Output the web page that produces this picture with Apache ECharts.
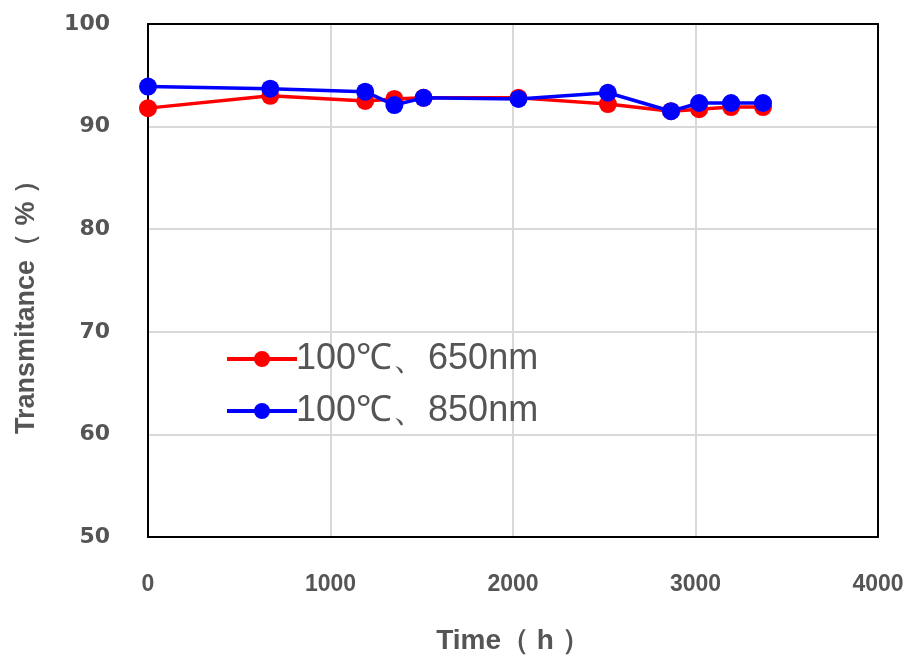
<!DOCTYPE html>
<html><head><meta charset="utf-8">
<script src="https://cdn.jsdelivr.net/npm/echarts@6/dist/echarts.min.js"></script>
<style>html,body{margin:0;padding:0;background:#fff}#c{width:919px;height:659px}</style>
</head><body><div id="c"></div>
<script>
const time650 = [0, 670, 1190, 1350, 1510, 2030, 2520, 2866, 3020, 3195, 3370];
const trans650 = [91.8, 93.0, 92.5, 92.7, 92.8, 92.8, 92.2, 91.5, 91.7, 91.9, 91.9];
const time850 = [0, 670, 1190, 1350, 1510, 2030, 2520, 2866, 3020, 3195, 3370];
const trans850 = [93.9, 93.7, 93.4, 92.1, 92.8, 92.7, 93.3, 91.5, 92.3, 92.3, 92.3];
const seriesNames = ['100℃、650nm', '100℃、850nm'];
const xTicks = [0, 1000, 2000, 3000, 4000];
const yTicks = [50, 60, 70, 80, 90, 100];

const chart = echarts.init(document.getElementById('c'));
const pair = (xs, ys) => xs.map((x, i) => [x, ys[i]]);
const frameAxis = {show: true, axisLine: {show: true, onZero: false, lineStyle: {color: '#000', width: 2}},
  axisTick: {show: false}, axisLabel: {show: false}, splitLine: {show: false}};
chart.setOption({
  animation: false,
  grid: {left: 148, right: 41, top: 24, bottom: 122, containLabel: false, outerBoundsMode: 'none'},
  legend: {
    orient: 'vertical', left: 220, top: 336, itemGap: 16, itemWidth: 70, itemHeight: 20,
    lineStyle: {width: 4},
    textStyle: {fontSize: 36, color: '#555', fontFamily: 'Liberation Sans', padding: [0,0,0,-6]},
    data: seriesNames
  },
  xAxis: [{
    type: 'value', min: xTicks[0], max: xTicks[xTicks.length-1], interval: 1000,
    name: 'Time（ h ）', nameLocation: 'middle', nameGap: 90,
    nameTextStyle: {fontSize: 28, color: '#555', fontWeight: 'bold', fontFamily: 'Liberation Sans'},
    axisLine: {show: true, onZero: false, lineStyle: {color: '#000', width: 2}},
    axisTick: {show: false},
    axisLabel: {margin: 36, fontSize: 23, color: '#555', fontWeight: 'bold', fontFamily: 'Liberation Sans', formatter: v => String(v)},
    splitLine: {show: true, lineStyle: {color: '#d9d9d9', width: 2}}
  }, Object.assign({type: 'value', position: 'top', min: xTicks[0], max: xTicks[xTicks.length-1], interval: 1000}, frameAxis)],
  yAxis: [{
    type: 'value', min: yTicks[0], max: yTicks[yTicks.length-1], interval: 10,
    name: 'Transmitance（ % ）', nameLocation: 'middle', nameGap: 108, nameRotate: 90,
    nameTextStyle: {fontSize: 27, color: '#555', fontWeight: 'bold', fontFamily: 'Liberation Sans', padding: [0, 40, 0, 0]},
    axisLine: {show: true, onZero: false, lineStyle: {color: '#000', width: 2}},
    axisTick: {show: false},
    axisLabel: {margin: 38, fontSize: 22, color: '#555', fontWeight: 'bold', fontFamily: 'DejaVu Sans'},
    splitLine: {show: true, lineStyle: {color: '#d9d9d9', width: 2}}
  }, Object.assign({type: 'value', position: 'right', min: yTicks[0], max: yTicks[yTicks.length-1], interval: 10}, frameAxis)],
  series: [
    {name: seriesNames[0], type: 'line', data: pair(time650, trans650), symbol: 'circle', symbolSize: 18,
     itemStyle: {color: '#ff0000'}, lineStyle: {color: '#ff0000', width: 3.5}, z: 2},
    {name: seriesNames[1], type: 'line', data: pair(time850, trans850), symbol: 'circle', symbolSize: 18,
     itemStyle: {color: '#0000ff'}, lineStyle: {color: '#0000ff', width: 3.5}, z: 3}
  ]
});
</script></body></html>
